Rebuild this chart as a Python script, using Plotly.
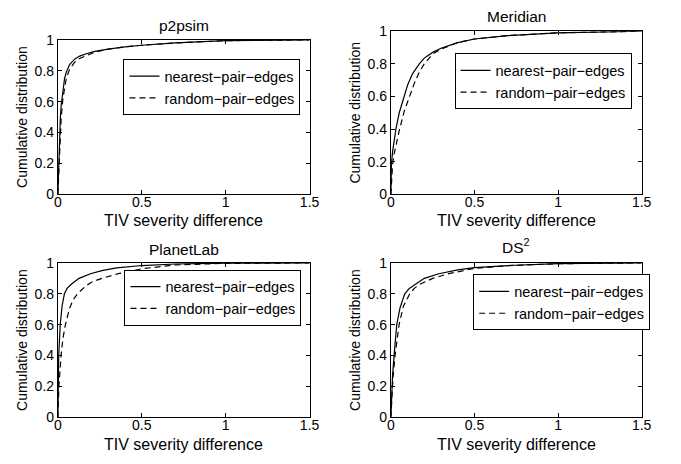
import plotly.graph_objects as go

# ---------------- data ----------------
titles = ["p2psim", "Meridian", "PlanetLab", "DS<sup>2</sup>"]
series_names = ["nearest\u2212pair\u2212edges", "random\u2212pair\u2212edges"]
x_title = "TIV severity difference"
y_title = "Cumulative distribution"

p2psim_near_x = [0, 0.005, 0.01, 0.015, 0.02, 0.03, 0.04, 0.05, 0.07, 0.1, 0.13, 0.17, 0.22, 0.3, 0.4, 0.5, 0.7, 1.0, 1.5]
p2psim_near_y = [0, 0.2, 0.38, 0.5, 0.58, 0.68, 0.75, 0.79, 0.84, 0.875, 0.895, 0.91, 0.925, 0.94, 0.955, 0.965, 0.98, 0.995, 1.0]
p2psim_rand_x = [0, 0.005, 0.01, 0.015, 0.02, 0.03, 0.04, 0.05, 0.07, 0.1, 0.13, 0.17, 0.22, 0.3, 0.4, 0.5, 0.7, 1.0, 1.5]
p2psim_rand_y = [0, 0.15, 0.3, 0.42, 0.5, 0.62, 0.7, 0.75, 0.81, 0.855, 0.88, 0.9, 0.92, 0.94, 0.955, 0.965, 0.98, 0.995, 1.0]

meridian_near_x = [0, 0.003, 0.01, 0.02, 0.03, 0.05, 0.08, 0.1, 0.13, 0.17, 0.2, 0.25, 0.3, 0.4, 0.5, 0.7, 1.0, 1.5]
meridian_near_y = [0, 0.18, 0.26, 0.34, 0.4, 0.5, 0.61, 0.67, 0.74, 0.8, 0.835, 0.87, 0.895, 0.93, 0.952, 0.973, 0.99, 1.0]
meridian_rand_x = [0, 0.005, 0.01, 0.02, 0.03, 0.05, 0.08, 0.11, 0.14, 0.17, 0.2, 0.25, 0.3, 0.4, 0.5, 0.7, 1.0, 1.5]
meridian_rand_y = [0, 0.12, 0.18, 0.25, 0.3, 0.39, 0.51, 0.6, 0.68, 0.75, 0.8, 0.86, 0.89, 0.93, 0.952, 0.973, 0.99, 1.0]

planetlab_near_x = [0, 0.002, 0.005, 0.014, 0.025, 0.039, 0.055, 0.078, 0.1, 0.126, 0.194, 0.262, 0.35, 0.5, 0.7, 1.0, 1.5]
planetlab_near_y = [0, 0.25, 0.4, 0.6, 0.72, 0.8, 0.835, 0.86, 0.88, 0.9, 0.93, 0.95, 0.968, 0.983, 0.993, 0.998, 1.0]
planetlab_rand_x = [0, 0.006, 0.019, 0.03, 0.045, 0.068, 0.09, 0.117, 0.165, 0.2, 0.262, 0.36, 0.5, 0.7, 1.0, 1.5]
planetlab_rand_y = [0, 0.2, 0.4, 0.51, 0.6, 0.7, 0.76, 0.8, 0.85, 0.875, 0.9, 0.93, 0.962, 0.987, 0.997, 1.0]

ds2_near_x = [0, 0.004, 0.01, 0.019, 0.035, 0.055, 0.083, 0.11, 0.142, 0.2, 0.287, 0.4, 0.5, 0.7, 1.0, 1.5]
ds2_near_y = [0, 0.15, 0.27, 0.4, 0.6, 0.71, 0.8, 0.835, 0.86, 0.9, 0.93, 0.955, 0.969, 0.983, 0.995, 1.0]
ds2_rand_x = [0, 0.005, 0.012, 0.025, 0.049, 0.075, 0.113, 0.14, 0.171, 0.25, 0.346, 0.5, 0.7, 1.0, 1.5]
ds2_rand_y = [0, 0.13, 0.25, 0.4, 0.6, 0.72, 0.8, 0.835, 0.86, 0.9, 0.93, 0.965, 0.982, 0.995, 1.0]

x_ticks = [0, 0.5, 1, 1.5]
x_ticklabels = ["0", "0.5", "1", "1.5"]
y_ticks = [0, 0.2, 0.4, 0.6, 0.8, 1]
y_ticklabels = ["0", "0.2", "0.4", "0.6", "0.8", "1"]

panels = [
    (p2psim_near_x, p2psim_near_y, p2psim_rand_x, p2psim_rand_y),
    (meridian_near_x, meridian_near_y, meridian_rand_x, meridian_rand_y),
    (planetlab_near_x, planetlab_near_y, planetlab_rand_x, planetlab_rand_y),
    (ds2_near_x, ds2_near_y, ds2_rand_x, ds2_rand_y),
]

# ---------------- layout geometry ----------------
W, H = 681, 464
FONT = "Liberation Sans, Arial, Helvetica, sans-serif"
FS_TICK = 14
FS_TITLE = 15.5
FS_XTITLE = 16
FS_YTITLE = 14
FS_LEG = 14.5
# pixel boxes (left, right, top, bottom)
boxes = [(55, 312, 33, 193), (395, 651, 24, 193), (55, 312, 264, 424), (395, 651, 264, 424)]
legend_pos = [(122, 53), (460, 47), (123, 271), (479, 276)]
title_y = [18, 9, 250, 246]
xtitle_y = [220, 220, 452, 452]

fig = go.Figure()
layout = dict(
    width=W, height=H,
    margin=dict(l=0, r=0, t=0, b=0),
    paper_bgcolor="white", plot_bgcolor="white",
    font=dict(family=FONT, size=FS_TICK, color="black"),
    showlegend=True,
    annotations=[],
)

for i, (nx, ny, rx, ry) in enumerate(panels):
    k = "" if i == 0 else str(i + 1)
    leg = "legend" + k
    fig.add_trace(go.Scatter(x=nx, y=ny, mode="lines", name=series_names[0],
                             line=dict(color="black", width=1.2),
                             xaxis="x" + k, yaxis="y" + k, legend=leg))
    fig.add_trace(go.Scatter(x=rx, y=ry, mode="lines", name=series_names[1],
                             line=dict(color="black", width=1.2, dash="6px,4px"),
                             xaxis="x" + k, yaxis="y" + k, legend=leg))
    l, r, t, b = boxes[i]
    common = dict(showline=True, linecolor="black", linewidth=1, mirror="ticks",
                  ticks="inside", ticklen=4, tickcolor="black", showgrid=False,
                  zeroline=False, tickfont=dict(family=FONT, size=FS_TICK, color="black"))
    layout["xaxis" + k] = dict(common, domain=[l / W, r / W], range=[0, 1.5],
                               tickvals=x_ticks, ticktext=x_ticklabels,
                               anchor="y" + k, ticklabelstandoff=-5)
    layout["yaxis" + k] = dict(common, domain=[1 - b / H, 1 - t / H], range=[0, 1],
                               tickvals=y_ticks, ticktext=y_ticklabels,
                               anchor="x" + k,
                               title=dict(text=y_title, standoff=3,
                                          font=dict(family=FONT, size=FS_YTITLE)))
    lx, ly = legend_pos[i]
    layout[leg] = dict(x=lx / W, y=1 - ly / H, xanchor="left", yanchor="top",
                       xref="paper", yref="paper",
                       bordercolor="black", borderwidth=1, bgcolor="white",
                       font=dict(family=FONT, size=FS_LEG, color="black"),
                       tracegroupgap=0)
    layout["annotations"].append(dict(text=titles[i], x=(l + r) / 2 / W, y=1 - title_y[i] / H,
                                      xref="paper", yref="paper", showarrow=False,
                                      xanchor="center", yanchor="middle",
                                      font=dict(family=FONT, size=FS_TITLE, color="black")))
    layout["annotations"].append(dict(text=x_title, x=(l + r) / 2 / W, y=1 - xtitle_y[i] / H,
                                      xref="paper", yref="paper", showarrow=False,
                                      xanchor="center", yanchor="middle",
                                      font=dict(family=FONT, size=FS_XTITLE, color="black")))

fig.update_layout(**layout)
fig.write_html("out.html")
